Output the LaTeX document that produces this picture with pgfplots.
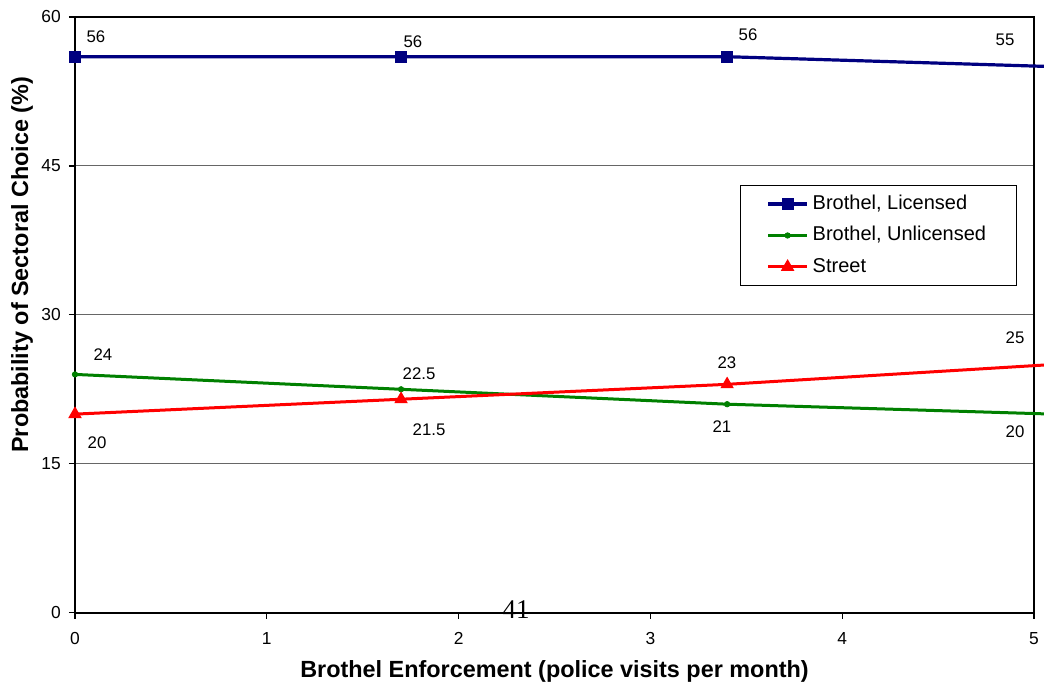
\documentclass[border=0pt]{standalone}
\usepackage{fontspec}
\setmainfont{Liberation Sans}
\newfontfamily\seriffont{Liberation Serif}
\usepackage{pgfplots}
\pgfplotsset{compat=1.18}
\definecolor{cblue}{RGB}{0,0,128}
\definecolor{cgreen}{RGB}{0,128,0}
\definecolor{cred}{RGB}{255,0,0}
\begin{document}
\begin{tikzpicture}
\begin{axis}[
  at={(0,0)}, anchor=south west,
  scale only axis,
  width=479.5pt, height=297.85pt,
  xmin=0, xmax=5, ymin=0, ymax=60,
  xtick={0,1,2,3,4,5}, ytick={0,15,30,45,60},
  clip=false,
  axis line style={line width=0.9pt},
  tick align=outside, tick pos=left,
  major tick length=3pt,
  tick style={line width=0.6pt, black},
  ymajorgrids,
  grid style={line width=0.5pt, black!60},
  /pgf/number format/assume math mode=true,
  xticklabel style={font=\fontsize{8.7}{10}\selectfont},
  yticklabel style={font=\fontsize{8.7}{10}\selectfont},
  xticklabel shift=3.2pt,
  yticklabel shift=0.6pt,
  every axis x label/.style={at={(axis description cs:0.5,-0.108)}, anchor=base, font=\fontsize{11.7}{14}\selectfont\bfseries},
  every axis y label/.style={at={(axis description cs:-0.049,0.584)}, rotate=90, anchor=base, font=\fontsize{11.7}{14}\selectfont\bfseries},
  xlabel={Brothel Enforcement (police visits per month)},
  ylabel={Probability of Sectoral Choice (\%)},
  legend style={at={(axis description cs:0.982,0.718)}, anchor=north east,
    draw=black, line width=0.6pt, fill=white,
    font=\fontsize{10}{12}\selectfont,
    inner xsep=13pt, inner ysep=2pt, row sep=1.2pt,
    nodes={inner sep=2pt, text height=8pt, text depth=2.5pt}},
  legend cell align=left,
  legend image code/.code={\draw[mark repeat=2,mark phase=2] plot coordinates {(0pt,0pt) (9.75pt,0pt) (19.5pt,0pt)};},
]
\addplot[cblue, line width=1.6pt, mark=square*, mark size=2.75pt, mark options={solid, line width=0.5pt}]
  coordinates {(0,56) (1.7,56) (3.4,56) (5.1,55)};
\addlegendentry{Brothel, Licensed}
\addplot[cgreen, line width=1.5pt, mark=*, mark size=1.35pt, mark options={line width=0.4pt}]
  coordinates {(0,24) (1.7,22.5) (3.4,21) (5.1,20)};
\addlegendentry{Brothel, Unlicensed}
\addplot[cred, line width=1.5pt, mark=triangle*, mark size=3.4pt, mark options={line width=0.5pt}]
  coordinates {(0,20) (1.7,21.5) (3.4,23) (5.1,25)};
\addlegendentry{Street}
% data labels
\begin{scope}[every node/.style={font=\fontsize{8.4}{10}\selectfont, anchor=center, inner sep=0pt}]
\node at (axis cs:0.109,57.97) {56};
\node at (axis cs:1.762,57.47) {56};
\node at (axis cs:3.509,58.18) {56};
\node at (axis cs:4.849,57.67) {55};
\node at (axis cs:0.146,25.95) {24};
\node at (axis cs:1.794,24.04) {22.5};
\node at (axis cs:3.373,18.70) {21};
\node at (axis cs:4.901,18.20) {20};
\node at (axis cs:0.115,17.09) {20};
\node at (axis cs:1.846,18.40) {21.5};
\node at (axis cs:3.399,25.15) {23};
\node at (axis cs:4.901,27.66) {25};
\end{scope}
\node[anchor=base, inner sep=0pt, font=\seriffont\fontsize{13.5}{16}\selectfont] at (axis description cs:0.4599,-0.0105) {41};
\end{axis}
\pgfresetboundingbox
\useasboundingbox (-37.5pt,-37.65pt) rectangle (484.5pt,306.35pt);
\end{tikzpicture}
\end{document}
